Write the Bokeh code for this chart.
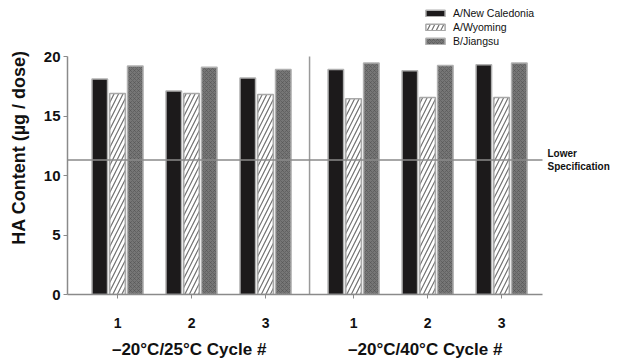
from bokeh.plotting import figure
from bokeh.models import (Range1d, LinearAxis, FixedTicker, Label, Legend,
                          LegendItem, ColumnDataSource)
from bokeh.embed import file_html
from bokeh.resources import INLINE

# ---- data ----
groups = ["\u201320\u00b0C/25\u00b0C  Cycle #", "\u201320\u00b0C/40\u00b0C  Cycle #"]
cycles = ["1", "2", "3"]
new_caledonia = [18.1, 17.1, 18.2, 18.9, 18.8, 19.3]
wyoming = [16.9, 16.9, 16.8, 16.45, 16.55, 16.55]
jiangsu = [19.2, 19.1, 18.9, 19.45, 19.25, 19.45]
series_names = ["A/New Caledonia", "A/Wyoming", "B/Jiangsu"]
lower_spec = 11.3
y_ticks = [0, 5, 10, 15, 20]

# ---- layout ----
GROUP_GAP = 0.19
xs = []
for gi, g in enumerate(groups):
    for ci, c in enumerate(cycles):
        xs.append(1 + ci + gi * (len(cycles) + GROUP_GAP))
group_centers = [sum(xs[i * 3:(i + 1) * 3]) / 3 for i in range(len(groups))]
divider_x = (xs[2] + xs[3]) / 2
X0, AXIS_END, X1 = 0.324, 6.743, 7.851

p = figure(width=624, height=361, output_backend="svg", toolbar_location=None,
           x_range=Range1d(X0, X1), y_range=Range1d(0, 294 / 11.9),
           x_axis_type=None, y_axis_type=None,
           min_border_left=67, min_border_right=0, min_border_top=0,
           min_border_bottom=67)
p.outline_line_color = None
p.xgrid.visible = False
p.ygrid.visible = False
p.background_fill_color = "white"

BW = 0.21
OFF = 0.24
src = ColumnDataSource(dict(x=xs, nc=new_caledonia, wy=wyoming, ji=jiangsu,
                            x0=[v - OFF for v in xs], x2=[v + OFF for v in xs]))

r1 = p.vbar(x="x0", top="nc", width=BW, source=src, fill_color="#1c1a1b",
            line_color="#b0b0b0", line_width=1.5)
r2 = p.vbar(x="x", top="wy", width=BW, source=src, fill_color="white",
            line_color="#a8a8a8", line_width=1.5,
            hatch_pattern="/", hatch_color="#707070", hatch_scale=9, hatch_weight=1.2)
r3 = p.vbar(x="x2", top="ji", width=BW, source=src, fill_color="#767676",
            line_color="#b0b0b0", line_width=1.5,
            hatch_pattern="x", hatch_color="#4e4e4e", hatch_scale=4, hatch_weight=0.7,
            hatch_alpha=0.7)

# divider
p.segment(x0=[divider_x], y0=[0], x1=[divider_x], y1=[20], line_color="#9a9a9a",
          line_width=1.5)

# lower spec line
p.segment(x0=[X0], y0=[lower_spec], x1=[AXIS_END], y1=[lower_spec],
          line_color="#8a8a8a", line_width=1.5)
p.add_layout(Label(x=AXIS_END, y=lower_spec, x_offset=5, text="Lower\nSpecification",
                   text_font="Liberation Sans", text_font_style="bold",
                   text_font_size="10px", text_baseline="middle", text_color="#111",
                   text_line_height=1.15))

# y axis
yax = LinearAxis(ticker=FixedTicker(ticks=y_ticks), bounds=(0, 20))
yax.axis_line_color = "#8a8a8a"
yax.axis_line_width = 1.5
yax.major_tick_line_color = "#8a8a8a"
yax.major_tick_out = 4
yax.major_tick_in = 0
yax.minor_tick_line_color = None
yax.major_label_text_font = "Liberation Sans"
yax.major_label_text_font_style = "bold"
yax.major_label_text_font_size = "15px"
yax.major_label_text_color = "#111"
yax.major_label_standoff = 3
yax.axis_label = "HA Content (\u00b5g / dose)"
yax.axis_label_text_font = "Liberation Sans"
yax.axis_label_text_font_style = "bold"
yax.axis_label_text_font_size = "18px"
yax.axis_label_text_color = "#111"
yax.axis_label_standoff = 12
p.add_layout(yax, "left")

# x axis with cycle numbers
xax = LinearAxis(ticker=FixedTicker(ticks=xs), bounds=(X0, AXIS_END),
                 major_label_overrides={x: c for x, c in zip(xs, cycles * len(groups))})
xax.axis_line_color = "#8a8a8a"
xax.axis_line_width = 1.5
xax.major_tick_line_color = "#8a8a8a"
xax.major_tick_out = 4
xax.major_tick_in = 0
xax.minor_tick_line_color = None
xax.major_label_text_font = "Liberation Sans"
xax.major_label_text_font_style = "bold"
xax.major_label_text_font_size = "14px"
xax.major_label_text_color = "#111"
xax.major_label_standoff = 19
p.add_layout(xax, "below")

# group labels axis
gax = LinearAxis(ticker=FixedTicker(ticks=group_centers),
                 major_label_overrides={x: g for x, g in zip(group_centers, groups)})
gax.axis_line_color = None
gax.major_tick_line_color = None
gax.minor_tick_line_color = None
gax.major_tick_out = 0
gax.major_tick_in = 0
gax.major_label_text_font = "Liberation Sans"
gax.major_label_text_font_style = "bold"
gax.major_label_text_font_size = "17px"
gax.major_label_text_color = "#111"
gax.major_label_standoff = 9
p.add_layout(gax, "below")

# legend
legend = Legend(items=[LegendItem(label=n, renderers=[r]) for n, r in
                       zip(series_names, [r1, r2, r3])],
                location=(356, 247), orientation="vertical")
legend.glyph_width = 24
legend.glyph_height = 8
legend.label_height = 12
legend.spacing = 2
legend.padding = 0
legend.margin = 0
legend.label_standoff = 6
legend.label_text_font = "Liberation Sans"
legend.label_text_font_size = "10.5px"
legend.label_text_color = "#111"
legend.border_line_color = None
legend.background_fill_alpha = 0
p.add_layout(legend)

open("out.html", "w").write(file_html(p, INLINE))
